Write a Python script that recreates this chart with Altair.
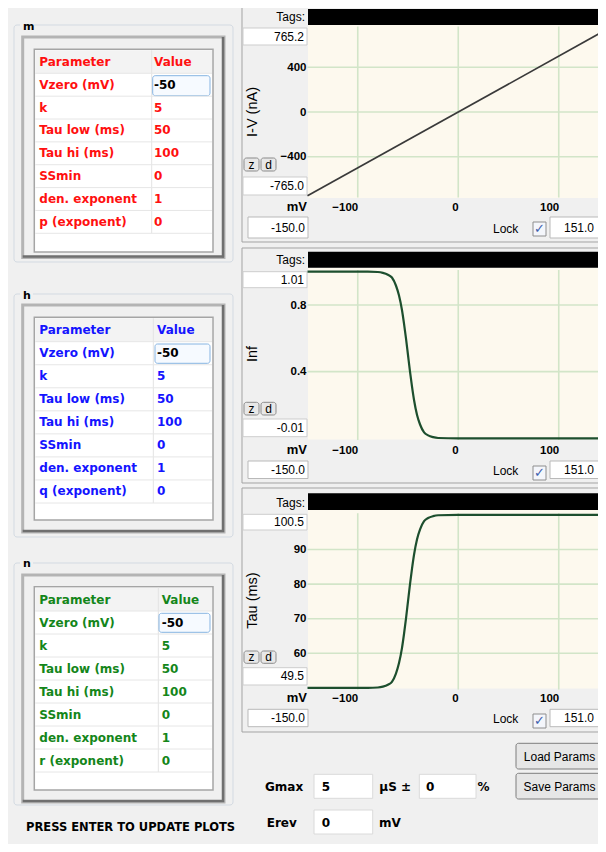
import altair as alt
import pandas as pd

OX, OY = 8, 8          # page margin: reference pixel -> chart pixel
W, H = 590, 836
BG = "#f0f0f0"

# ------------------------------------------------------------------ data
m_params = ["Parameter", "Vzero (mV)", "k", "Tau low (ms)", "Tau hi (ms)", "SSmin", "den. exponent", "p (exponent)"]
h_params = ["Parameter", "Vzero (mV)", "k", "Tau low (ms)", "Tau hi (ms)", "SSmin", "den. exponent", "q (exponent)"]
n_params = ["Parameter", "Vzero (mV)", "k", "Tau low (ms)", "Tau hi (ms)", "SSmin", "den. exponent", "r (exponent)"]
m_values = ["Value", "-50", "5", "50", "100", "0", "1", "0"]
h_values = ["Value", "-50", "5", "50", "100", "0", "1", "0"]
n_values = ["Value", "-50", "5", "50", "100", "0", "1", "0"]

iv_voltage = [-150, 151]
iv_current = [-750, 755]

gate_voltage = [-150, -90, -80, -75, -70, -66, -62, -59, -56, -54, -52, -50, -48,
                -46, -44, -41, -38, -34, -30, -25, -20, 0, 151]
inf_values = [1.0, 1.0, 0.998, 0.993, 0.982, 0.965, 0.917, 0.858, 0.77, 0.69, 0.6, 0.5, 0.4,
              0.31, 0.23, 0.14, 0.083, 0.036, 0.018, 0.007, 0.002, 0.0, 0.0]
tau_values = [50.0, 50.0, 50.1, 50.35, 50.9, 51.75, 54.15, 57.1, 61.5, 65.5, 70.0, 75.0, 80.0,
              84.5, 88.5, 93.0, 95.85, 98.2, 99.1, 99.65, 99.9, 100.0, 100.0]

x_ticks = [-100, 0, 100]
iv_ticks = [-400, 0, 400]
inf_ticks = [0.4, 0.8]
tau_ticks = [60, 70, 80, 90]

v_limits = [-150.0, 151.0]
iv_limits = [-765.0, 765.2]
inf_limits = [-0.01, 1.01]
tau_limits = [49.5, 100.5]

gmax_value = "5"
gmax_spread = "0"
erev_value = "0"

RED, BLUE, GREEN = "#ff1010", "#1414ff", "#14861a"

# ------------------------------------------------------------------ chrome helpers
rr_back, rects, rules, rr_mid, rr_front = [], [], [], [], []
texts = {}


def R(x1, y1, x2, y2, fill="transparent", stroke="transparent", sw=0, lst=None):
    (rects if lst is None else lst).append(
        dict(x1=x1 - OX, y1=y1 - OY, x2=x2 - OX, y2=y2 - OY, fill=fill, stroke=stroke, sw=sw))


def L(x1, y1, x2, y2, color, sw=1):
    rules.append(dict(x1=x1 - OX, y1=y1 - OY, x2=x2 - OX, y2=y2 - OY, c=color, sw=sw))


def T(x, y, t, color="#000000", size=12, font="Liberation Sans", weight="normal", align="left"):
    texts.setdefault((font, weight, align), []).append(
        dict(x=x - OX, y=y - OY, t=t, c=color, s=size))


def rect_layer(rows, radius=0):
    return alt.Chart(pd.DataFrame(rows)).mark_rect(cornerRadius=radius).encode(
        x=alt.X("x1:Q", scale=None, axis=None), x2="x2:Q",
        y=alt.Y("y1:Q", scale=None, axis=None), y2="y2:Q",
        fill=alt.Fill("fill:N", scale=None, legend=None),
        stroke=alt.Stroke("stroke:N", scale=None, legend=None),
        strokeWidth=alt.StrokeWidth("sw:Q", scale=None, legend=None),
    )


layers_tables = []
layers_plots = []

# ------------------------------------------------------------------ left: parameter tables
panels = [
    dict(name="m", color=RED, params=m_params, values=m_values, group=(14, 25, 233, 262),
         inner=(22.7, 37, 224, 257.5), table=(34.3, 49.3, 213, 252), rows=(73.3, 233.3),
         colx=(39.3, 154), div=151.7, edit=(152.7, 75.7, 210, 95.7), label_y=27),
    dict(name="h", color=BLUE, params=h_params, values=h_values, group=(14, 294, 233, 537),
         inner=(22.7, 305, 224, 532), table=(34.3, 317.3, 213, 520), rows=(341.7, 503),
         colx=(39.3, 157), div=153.3, edit=(155, 344, 210, 363.3), label_y=295.5),
    dict(name="n", color=GREEN, params=n_params, values=n_values, group=(14, 563, 233, 805),
         inner=(22.7, 575, 224, 802), table=(34.3, 586.7, 213, 790), rows=(611, 772),
         colx=(39.3, 161.7), div=158.3, edit=(159, 613.3, 210, 632.3), label_y=563.5),
]

for p in panels:
    gx1, gy1, gx2, gy2 = p["group"]
    R(gx1, gy1, gx2, gy2, stroke="#d3dae2", sw=1, lst=rr_back)
    R(20, p["label_y"] - 6, 33, p["label_y"] + 5, fill=BG)
    T(23, p["label_y"], p["name"], size=11, font="DejaVu Sans", weight="bold")
    ix1, iy1, ix2, iy2 = p["inner"]
    R(ix1, iy1, ix2, iy2, fill=BG, stroke="#b4b4b4", sw=3)
    L(ix2 - 1, iy1, ix2 - 1, iy2, "#6f6f6f", 2.5)
    L(ix1, iy2 - 1, ix2, iy2 - 1, "#6f6f6f", 2.5)
    tx1, ty1, tx2, ty2 = p["table"]
    R(tx1, ty1, tx2, ty2, fill="#ffffff", stroke="#a5a5a5", sw=1.5)
    R(tx1 + 1, ty1 + 1, tx2 - 1, p["rows"][0], fill="#f3f3f3")
    L(p["div"], ty1 + 1, p["div"], p["rows"][1], "#e3e3e3", 1)
    ex1, ey1, ex2, ey2 = p["edit"]
    R(ex1, ey1, ex2, ey2, fill="#f6faff", stroke="#86b4e2", sw=1, lst=rr_mid)

    ys = alt.Scale(domain=[1, 8], range=[p["rows"][0] - OY, p["rows"][1] - OY], zero=False, nice=False)
    xs = alt.Scale(domain=[0, 1], range=[p["colx"][0] - OX, p["colx"][1] - OX], zero=False, nice=False)

    row_lines = pd.DataFrame({"r": list(range(1, len(p["params"]) + 1))})
    layers_tables.append(
        alt.Chart(row_lines).mark_rule(color="#e6e6e6", strokeWidth=1).encode(
            y=alt.Y("r:Q", scale=ys, axis=None),
            x=alt.value(tx1 + 1 - OX), x2=alt.value(tx2 - 1 - OX)))

    cells = []
    for i, (par, val) in enumerate(zip(p["params"], p["values"])):
        cells.append(dict(r=i + 0.5, col=0, label=par, c=p["color"]))
        cells.append(dict(r=i + 0.5, col=1, label=val, c="#000000" if i == 1 else p["color"]))
    layers_tables.append(
        alt.Chart(pd.DataFrame(cells)).mark_text(
            font="DejaVu Sans", fontWeight="bold", fontSize=12, align="left", baseline="middle").encode(
            x=alt.X("col:Q", scale=xs, axis=None),
            y=alt.Y("r:Q", scale=ys, axis=None),
            text="label:N",
            color=alt.Color("c:N", scale=None, legend=None)))

T(26, 828, "PRESS ENTER TO UPDATE PLOTS", size=11.5, font="DejaVu Sans", weight="bold")

# ------------------------------------------------------------------ right: plots
X0, X1 = 307.5, 610.0   # reference pixels of v_limits
plots = [
    dict(vx=iv_voltage, vy=iv_current, lim=iv_limits, ticks=iv_ticks, fmt="d", lim_fmt="{:.1f}",
         title="I-V (nA)", color="#3a3a3a", sw=1.7,
         frame=(7, 242), tags_y=17, bar=(9, 25), cream=(25, 198), yr=(197.5, 26.5), topbox=(28, 45),
         zd=(158, 171), botbox=(177, 195), mv_y=207, row=(217, 238), chk=(222, 236), title_y=111.5),
    dict(vx=gate_voltage, vy=inf_values, lim=inf_limits, ticks=inf_ticks, fmt=".1f", lim_fmt="{:.2f}",
         title="Inf", color="#1d4f2e", sw=2.2,
         frame=(248, 483), tags_y=260, bar=(251.7, 267.7), cream=(268, 439.5), yr=(440, 270),
         topbox=(271.7, 287.7), zd=(402.3, 415), botbox=(419, 436.7), mv_y=450, row=(461, 478.5),
         chk=(466, 480), title_y=353.5),
    dict(vx=gate_voltage, vy=tau_values, lim=tau_limits, ticks=tau_ticks, fmt="d", lim_fmt="{:.1f}",
         title="Tau (ms)", color="#1d4f2e", sw=2.2,
         frame=(488, 732), tags_y=503.3, bar=(493.3, 510), cream=(510, 688.5), yr=(689.6, 513.2),
         topbox=(514.3, 530), zd=(651, 663.3), botbox=(667.7, 685), mv_y=698.3, row=(709.3, 726.7),
         chk=(714, 728), title_y=600),
]

for p in plots:
    f0, f1 = p["frame"]
    R(242, f0, 640, f1, stroke="#a3a3a3", sw=1)
    R(308, p["bar"][0], 640, p["bar"][1], fill="#000000")
    R(308, p["cream"][0], 640, p["cream"][1], fill="#fdf9ee")
    T(305, p["tags_y"], "Tags:", align="right")
    R(243, p["topbox"][0], 307, p["topbox"][1], fill="#ffffff", stroke="#cdcdcd", sw=1)
    T(304, sum(p["topbox"]) / 2, p["lim_fmt"].format(p["lim"][1]), align="right")
    R(243, p["botbox"][0], 307, p["botbox"][1], fill="#ffffff", stroke="#cdcdcd", sw=1)
    T(304, sum(p["botbox"]) / 2, p["lim_fmt"].format(p["lim"][0]), align="right")
    R(244, p["zd"][0], 259, p["zd"][1], fill="#e8e8e8", stroke="#8a8a8a", sw=1, lst=rr_front)
    R(261, p["zd"][0], 276, p["zd"][1], fill="#e8e8e8", stroke="#8a8a8a", sw=1, lst=rr_front)
    T(251.5, sum(p["zd"]) / 2, "z", size=12, align="center")
    T(268.5, sum(p["zd"]) / 2, "d", size=12, align="center")
    T(307, p["mv_y"], "mV", size=13, weight="bold", align="right")
    R(248, p["row"][0], 308, p["row"][1], fill="#ffffff", stroke="#b9b9b9", sw=1)
    T(305, sum(p["row"]) / 2, "{:.1f}".format(v_limits[0]), align="right")
    T(493, sum(p["row"]) / 2 + 1, "Lock")
    R(533, p["chk"][0], 546, p["chk"][1], fill="#f4f6fb", stroke="#8e8e8e", sw=1)
    T(539.5, sum(p["chk"]) / 2, "\u2713", size=13, font="DejaVu Sans", color="#3d5fae", align="center")
    R(550, p["row"][0], 640, p["row"][1], fill="#ffffff", stroke="#b9b9b9", sw=1)
    T(564, sum(p["row"]) / 2, "{:.1f}".format(v_limits[1]))

    xs = alt.Scale(domain=v_limits, range=[X0 - OX, X1 - OX], zero=False, nice=False)
    ys = alt.Scale(domain=p["lim"], range=[p["yr"][0] - OY, p["yr"][1] - OY], zero=False, nice=False)

    vgrid = pd.DataFrame({"v": x_ticks, "lo": [p["lim"][0]] * len(x_ticks), "hi": [p["lim"][1]] * len(x_ticks)})
    hgrid = pd.DataFrame({"v": p["ticks"], "lo": [v_limits[0]] * len(p["ticks"]),
                          "hi": [v_limits[1]] * len(p["ticks"])})
    layers_plots.append(
        alt.Chart(vgrid).mark_rule(color="#d2e5c8", strokeWidth=1.6).encode(
            x=alt.X("v:Q", scale=xs, axis=None),
            y=alt.Y("lo:Q", scale=ys, axis=None), y2="hi:Q"))
    layers_plots.append(
        alt.Chart(hgrid).mark_rule(color="#d2e5c8", strokeWidth=1.6).encode(
            y=alt.Y("v:Q", scale=ys, axis=None),
            x=alt.X("lo:Q", scale=xs, axis=None), x2="hi:Q"))

    line_df = pd.DataFrame({"V": p["vx"], "Y": p["vy"]})
    layers_plots.append(
        alt.Chart(line_df).mark_line(color=p["color"], strokeWidth=p["sw"], interpolate="monotone").encode(
            x=alt.X("V:Q", scale=xs, axis=alt.Axis(
                orient="bottom", values=x_ticks, offset=(p["mv_y"] - OY) - H,
                ticks=False, tickSize=0, domain=False, grid=False,
                labelFont="Liberation Sans", labelFontWeight="bold", labelFontSize=11.5,
                labelColor="#000000", labelAlign="right", labelBaseline="middle",
                labelPadding=0, labelFlush=False, labelOverlap=False,
                title=None, zindex=2)),
            y=alt.Y("Y:Q", scale=ys, axis=alt.Axis(
                orient="left", values=p["ticks"], format=p["fmt"], offset=-(X0 - OX),
                ticks=False, tickSize=0, domain=False, grid=False,
                labelFont="Liberation Sans", labelFontWeight="bold", labelFontSize=11.5,
                labelColor="#000000", labelPadding=1.5, labelFlush=False, labelOverlap=False,
                title=p["title"], titleFont="Liberation Sans", titleFontWeight="normal",
                titleFontSize=14.5, titleColor="#000000", titleAngle=270, titleAlign="center",
                titleBaseline="middle", titleX=252 - X0, titleY=p["title_y"] - OY, zindex=2)),
        ))

# ------------------------------------------------------------------ bottom controls
R(516, 743.3, 603, 769, fill="#e6e6e6", stroke="#7d7d7d", sw=1, lst=rr_front)
R(516, 773.3, 603, 799, fill="#e6e6e6", stroke="#7d7d7d", sw=1, lst=rr_front)
T(559.5, 756.5, "Load Params", size=12, align="center")
T(559.5, 786.5, "Save Params", size=12, align="center")
T(265, 786.5, "Gmax", font="DejaVu Sans", weight="bold")
R(314, 774.3, 372.7, 798.3, fill="#ffffff", stroke="#dadada", sw=1)
T(321.7, 786.5, gmax_value, font="DejaVu Sans", weight="bold")
T(379.3, 786.5, "\u00b5S \u00b1", font="DejaVu Sans", weight="bold")
R(419.3, 774.3, 476, 798.3, fill="#ffffff", stroke="#dadada", sw=1)
T(426, 786.5, gmax_spread, font="DejaVu Sans", weight="bold")
T(477.5, 786.5, "%", font="DejaVu Sans", weight="bold")
T(266.7, 823, "Erev", font="DejaVu Sans", weight="bold")
R(314, 810, 372.7, 834, fill="#ffffff", stroke="#dadada", sw=1)
T(321.7, 822.5, erev_value, font="DejaVu Sans", weight="bold")
T(379, 823, "mV", font="DejaVu Sans", weight="bold")

# ------------------------------------------------------------------ assemble
layers = [rect_layer(rr_back, 3), rect_layer(rects),
          alt.Chart(pd.DataFrame(rules)).mark_rule().encode(
              x=alt.X("x1:Q", scale=None, axis=None), x2="x2:Q",
              y=alt.Y("y1:Q", scale=None, axis=None), y2="y2:Q",
              color=alt.Color("c:N", scale=None, legend=None),
              strokeWidth=alt.StrokeWidth("sw:Q", scale=None, legend=None)),
          rect_layer(rr_mid, 2.5)]
layers += layers_tables
layers.append(rect_layer(rr_front, 2.5))
layers += layers_plots
for (font, weight, align), rows in texts.items():
    layers.append(
        alt.Chart(pd.DataFrame(rows)).mark_text(font=font, fontWeight=weight, align=align, baseline="middle").encode(
            x=alt.X("x:Q", scale=None, axis=None),
            y=alt.Y("y:Q", scale=None, axis=None),
            text="t:N",
            color=alt.Color("c:N", scale=None, legend=None),
            size=alt.Size("s:Q", scale=None, legend=None)))

chart = alt.layer(*layers).resolve_scale(
    x="independent", y="independent", color="independent", size="independent",
    fill="independent", stroke="independent", strokeWidth="independent",
).properties(
    width=W, height=H, padding=0, autosize=alt.AutoSizeParams(type="none"),
).configure(background=BG).configure_view(stroke=None, strokeWidth=0)

chart.save("out.html", embed_options={"renderer": "svg", "actions": False})
